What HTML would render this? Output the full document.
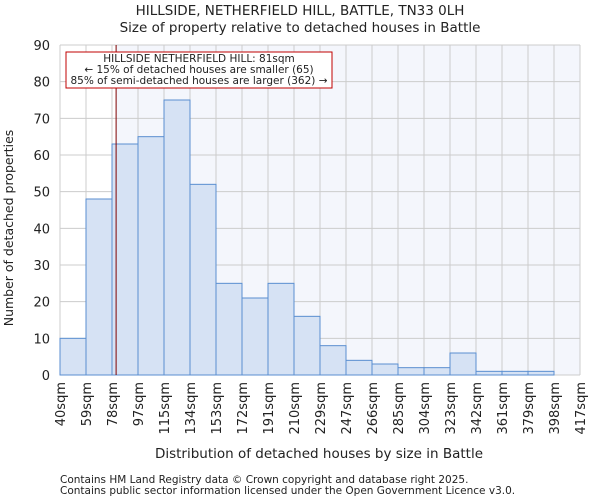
<!DOCTYPE html>
<html><head><meta charset="utf-8"><style>
body{margin:0;background:#fff;font-family:"DejaVu Sans","Liberation Sans",sans-serif}
svg text{font-family:"DejaVu Sans","Liberation Sans",sans-serif;fill:#222}
</style></head><body>
<svg id="c" width="600" height="500" xmlns="http://www.w3.org/2000/svg">
<text x="300" y="15" text-anchor="middle" font-size="13.5">HILLSIDE, NETHERFIELD HILL, BATTLE, TN33 0LH</text>
<text x="300" y="32" text-anchor="middle" font-size="13.5">Size of property relative to detached houses in Battle</text>
<g id="plot"></g>
<text x="319" y="458" text-anchor="middle" font-size="13.5">Distribution of detached houses by size in Battle</text>
<text transform="translate(13,228) rotate(-90)" text-anchor="middle" font-size="12.5">Number of detached properties</text>
<text x="60" y="483" font-size="10.5" fill="#444">Contains HM Land Registry data © Crown copyright and database right 2025.</text>
<text x="60" y="494" font-size="10.5" fill="#444">Contains public sector information licensed under the Open Government Licence v3.0.</text>
</svg>
<script>
const tickLabels=["40sqm","59sqm","78sqm","97sqm","115sqm","134sqm","153sqm","172sqm","191sqm","210sqm","229sqm","247sqm","266sqm","285sqm","304sqm","323sqm","342sqm","361sqm","379sqm","398sqm","417sqm"];
const binEdges=[40,59,78,97,115,134,153,172,191,210,229,247,266,285,304,323,342,361,379,398,417];
const counts=[10,48,63,65,75,52,25,21,25,16,8,4,3,2,2,6,1,1,1,0];
const yTicks=[0,10,20,30,40,50,60,70,80,90];
const propertySize=81;
const X0=60,X1=580,Y0=375,Y1=45,YMAX=90;
const n=counts.length,bw=(X1-X0)/n;
const xi=i=>X0+i*bw;
const xv=v=>{let i=0;while(i<binEdges.length-2&&v>binEdges[i+1])i++;return xi(i)+(v-binEdges[i])/(binEdges[i+1]-binEdges[i])*bw;};
const y=v=>Y0-(v/YMAX)*(Y0-Y1);
const g=document.getElementById('plot');const NS="http://www.w3.org/2000/svg";
function el(t,a,p){const e=document.createElementNS(NS,t);for(const k in a)e.setAttribute(k,a[k]);(p||g).appendChild(e);return e;}
const px=xv(propertySize);
let r=el('rect',{x:px,y:Y1,width:X1-px,height:Y0-Y1,fill:'#f4f6fc'});


for(let i=0;i<=n;i++){const l=el('line',{x1:xi(i),x2:xi(i),y1:Y1,y2:Y0,stroke:'#ccc'});

}
yTicks.forEach(t=>{const l=el('line',{x1:X0,x2:X1,y1:y(t),y2:y(t),stroke:'#ccc'});


const tx=el('text',{x:X0-10,y:y(t)+5,'text-anchor':'end','font-size':13});tx.textContent=t;

});
counts.forEach((c,i)=>{const b=el('rect',{x:xi(i),y:y(c),width:bw,height:Y0-y(c),fill:'#d6e2f4',stroke:'#5a8ed0','stroke-width':1});

});
tickLabels.forEach((t,i)=>{const tx=el('text',{transform:`translate(${xi(i)+5},382) rotate(-90)`,'text-anchor':'end','font-size':13});tx.textContent=t;

});
const pl=el('line',{x1:px,x2:px,y1:Y1,y2:Y0,stroke:'#800000','stroke-width':1});


const box=el('rect',{x:66,y:52,width:266,height:36,fill:'#fff',stroke:'#c00000'});


["HILLSIDE NETHERFIELD HILL: 81sqm","← 15% of detached houses are smaller (65)","85% of semi-detached houses are larger (362) →"].forEach((s,i)=>{const tx=el('text',{x:199,y:62+i*11,'text-anchor':'middle','font-size':10.5});tx.textContent=s;

});
</script>
</body></html>
